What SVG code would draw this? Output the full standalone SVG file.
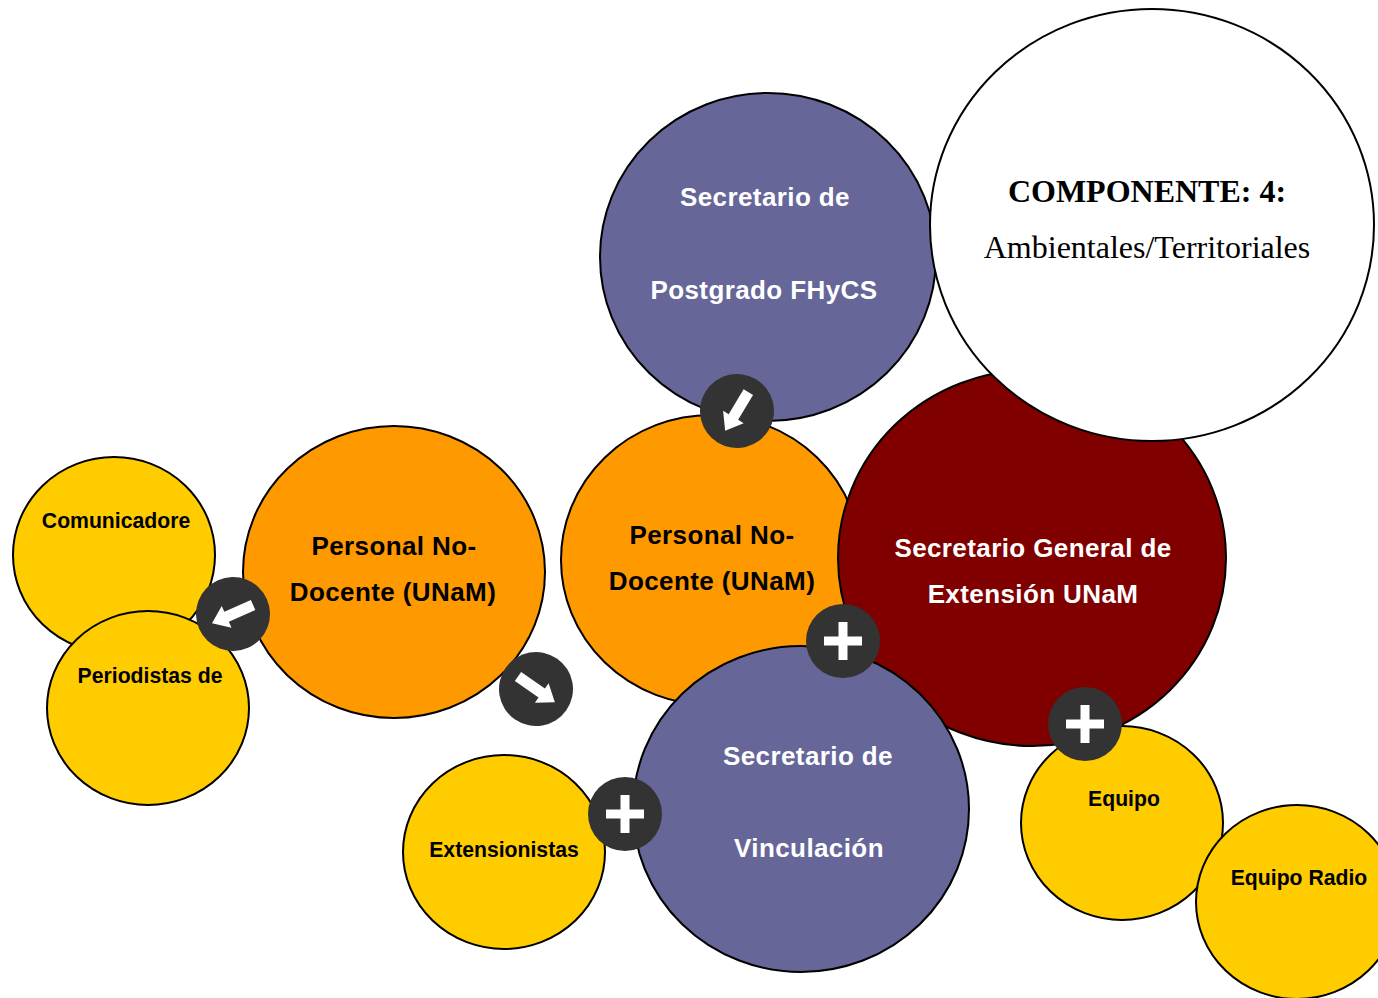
<svg xmlns="http://www.w3.org/2000/svg" width="1378" height="998" viewBox="0 0 1378 998">
<style>
.n{stroke:#000;stroke-width:2}
.p{fill:#666699}.o{fill:#ff9900}.y{fill:#ffcc00}.r{fill:#800000}.w{fill:#fff}
text{font-family:"Liberation Sans",Arial,sans-serif;font-weight:bold;text-anchor:middle}
.lw{fill:#fff;font-size:26px;letter-spacing:.4px}
.lk{fill:#000;font-size:26px;letter-spacing:.4px}
.ls{fill:#000;font-size:21.2px}
.t{font-family:"Liberation Serif","Times New Roman",serif;fill:#000;font-size:32px}
.b{fill:#333}
.g{fill:#fff}
</style>
<defs>
<g id="plus"><circle class="b" r="37"/><path class="g" d="M-19-4.500H-4.500V-19H4.500V-4.500H19V4.500H4.500V19H-4.500V4.500H-19Z"/></g>
<g id="arrow"><circle class="b" r="37"/><path class="g" d="M-22-5.500H7V-12L23 0L7 12V5.500H-22Z"/></g>
</defs>
<g id="connectors"></g>
<g id="node-comunicadores"><ellipse class="n y" cx="114" cy="555" rx="101" ry="98"/><text class="ls" x="116" y="528">Comunicadore</text></g>
<g id="node-periodistas"><ellipse class="n y" cx="148" cy="708" rx="101" ry="97"/><text class="ls" x="150" y="683">Periodistas de</text></g>
<g id="node-personal-izq"><ellipse class="n o" cx="394" cy="572" rx="151" ry="146"/><text class="lk" x="394" y="555">Personal No-</text><text class="lk" x="393" y="601">Docente (UNaM)</text></g>
<g id="node-postgrado"><ellipse class="n p" cx="768" cy="257" rx="168" ry="164"/><text class="lw" x="765" y="206">Secretario de</text><text class="lw" x="764" y="299">Postgrado FHyCS</text></g>
<g id="node-personal-centro"><ellipse class="n o" cx="711" cy="560" rx="150" ry="145"/><text class="lk" x="712" y="544">Personal No-</text><text class="lk" x="712" y="590">Docente (UNaM)</text></g>
<g id="node-secretario-general"><ellipse class="n r" cx="1032" cy="558" rx="194" ry="188"/><text class="lw" x="1033" y="557">Secretario General de</text><text class="lw" x="1033" y="603">Extensión UNaM</text></g>
<g id="node-componente"><ellipse class="n w" cx="1152" cy="225" rx="222" ry="216"/><text class="t" x="1147" y="202">COMPONENTE: 4:</text><text class="t" x="1147" y="258" style="font-weight:normal">Ambientales/Territoriales</text></g>
<g id="node-vinculacion"><ellipse class="n p" cx="801" cy="809" rx="168" ry="163"/><text class="lw" x="808" y="765">Secretario de</text><text class="lw" x="809" y="857">Vinculación</text></g>
<g id="node-extensionistas"><ellipse class="n y" cx="504" cy="852" rx="101" ry="97"/><text class="ls" x="504" y="857">Extensionistas</text></g>
<g id="node-equipo"><ellipse class="n y" cx="1122" cy="823" rx="101" ry="97"/><text class="ls" x="1124" y="806">Equipo</text></g>
<g id="node-equipo-radio"><ellipse class="n y" cx="1297" cy="902" rx="101" ry="97"/><text class="ls" x="1299" y="885">Equipo Radio</text></g>
<g id="badges">
<use href="#arrow" transform="translate(737,411) rotate(121)"/>
<use href="#arrow" transform="translate(233,614) rotate(156)"/>
<use href="#arrow" transform="translate(536,689) rotate(35)"/>
<use href="#plus" x="843" y="641"/>
<use href="#plus" x="1085" y="724"/>
<use href="#plus" x="625" y="814"/>
</g>
</svg>
